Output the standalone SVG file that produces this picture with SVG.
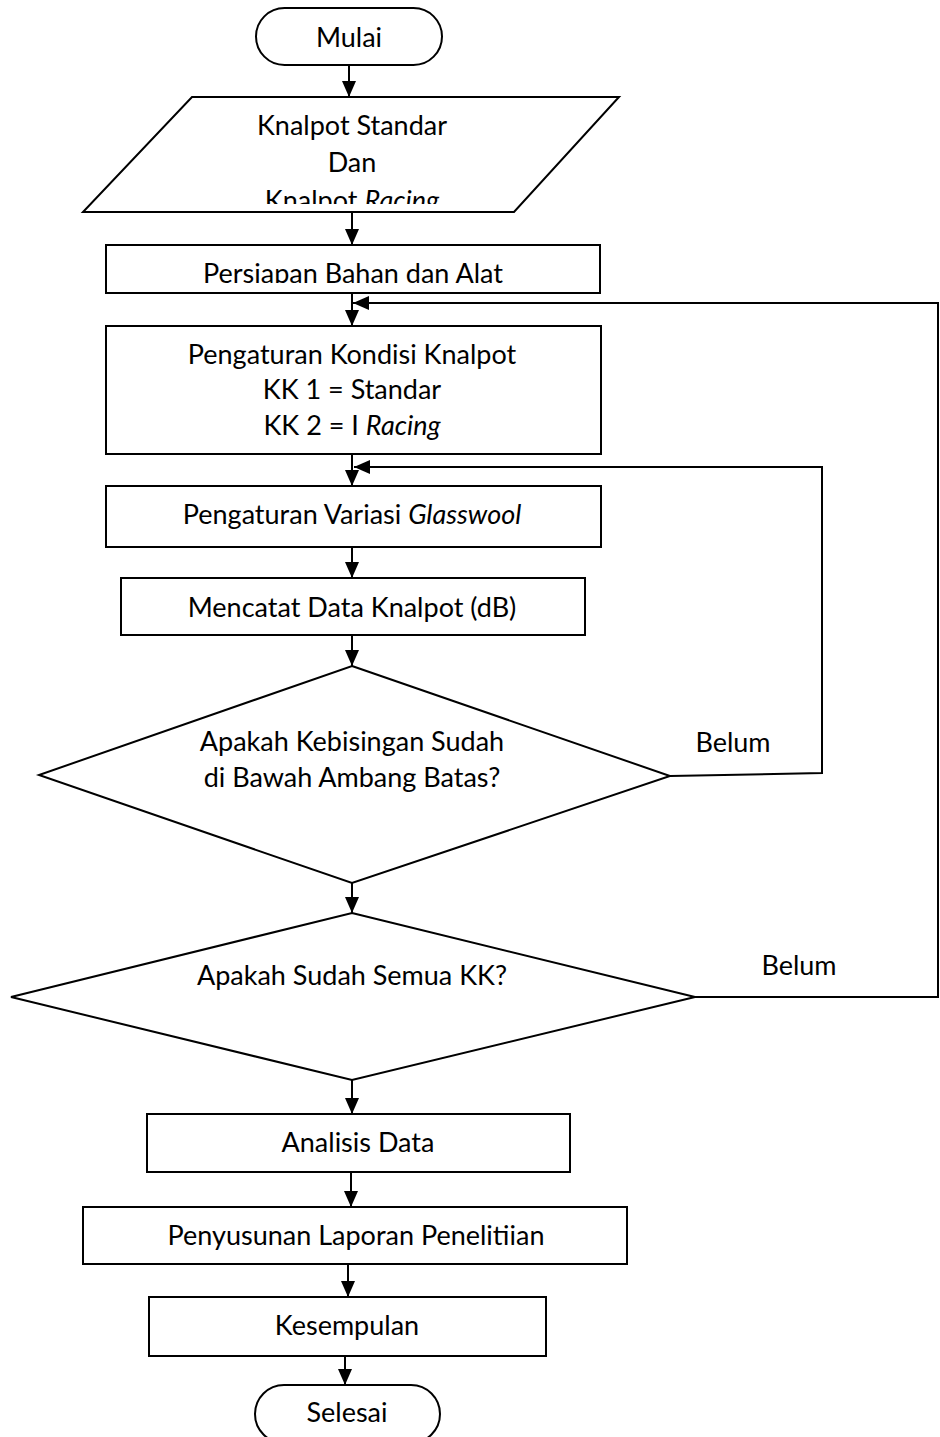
<svg xmlns="http://www.w3.org/2000/svg" width="940" height="1437" viewBox="0 0 940 1437">
<style>
.s{fill:#fff;stroke:#000;stroke-width:2}
.t{font-family:Lato,"Liberation Sans",sans-serif;font-size:27px;fill:#000;text-anchor:middle}
.i{font-style:italic}
.c{fill:none;stroke:#000;stroke-width:2}
</style>
<defs>
<marker id="ah" markerUnits="userSpaceOnUse" markerWidth="16" markerHeight="14" refX="16" refY="7" orient="auto">
<path d="M0,0 L16,7 L0,14 z" fill="#000"/>
</marker>
<clipPath id="cp1"><rect x="0" y="90" width="940" height="114"/></clipPath>
<clipPath id="cp2"><rect x="0" y="240" width="940" height="43"/></clipPath>
</defs>
<rect width="940" height="1437" fill="#fff"/>
<g id="connectors">
<line class="c" x1="349" y1="64" x2="349" y2="97" marker-end="url(#ah)"/>
<line class="c" x1="352" y1="212" x2="352" y2="245" marker-end="url(#ah)"/>
<line class="c" x1="352" y1="293" x2="352" y2="326" marker-end="url(#ah)"/>
<polyline class="c" points="695,997 938,997 938,303 353,303" marker-end="url(#ah)"/>
<line class="c" x1="352" y1="454" x2="352" y2="486" marker-end="url(#ah)"/>
<polyline class="c" points="670,776 822,773 822,467 354,467" marker-end="url(#ah)"/>
<line class="c" x1="352" y1="547" x2="352" y2="578" marker-end="url(#ah)"/>
<line class="c" x1="352" y1="635" x2="352" y2="666" marker-end="url(#ah)"/>
<line class="c" x1="352" y1="883" x2="352" y2="913" marker-end="url(#ah)"/>
<line class="c" x1="352" y1="1080" x2="352" y2="1114" marker-end="url(#ah)"/>
<line class="c" x1="351" y1="1172" x2="351" y2="1207" marker-end="url(#ah)"/>
<line class="c" x1="348" y1="1264" x2="348" y2="1297" marker-end="url(#ah)"/>
<line class="c" x1="345" y1="1356" x2="345" y2="1385" marker-end="url(#ah)"/>
<text class="t" x="733" y="752">Belum</text>
<text class="t" x="799" y="975">Belum</text>
</g>
<g id="mulai">
<rect class="s" x="256" y="8" width="186" height="57" rx="28.5"/>
<text class="t" x="349" y="47">Mulai</text>
</g>
<g id="input">
<polygon class="s" points="192,97 619,97 514,212 83,212"/>
<g clip-path="url(#cp1)">
<text class="t" x="352" y="135">Knalpot Standar</text>
<text class="t" x="352" y="172">Dan</text>
<text class="t" x="352" y="210">Knalpot <tspan class="i">Racing</tspan></text>
</g>
</g>
<g id="persiapan">
<rect class="s" x="106" y="245" width="494" height="48"/>
<text class="t" x="353" y="283" clip-path="url(#cp2)">Persiapan Bahan dan Alat</text>
</g>
<g id="kondisi">
<rect class="s" x="106" y="326" width="495" height="128"/>
<text class="t" x="352" y="364">Pengaturan Kondisi Knalpot</text>
<text class="t" x="352" y="399">KK 1 = Standar</text>
<text class="t" x="352" y="435">KK 2 = I <tspan class="i">Racing</tspan></text>
</g>
<g id="variasi">
<rect class="s" x="106" y="486" width="495" height="61"/>
<text class="t" x="352" y="524">Pengaturan Variasi <tspan class="i">Glasswool</tspan></text>
</g>
<g id="mencatat">
<rect class="s" x="121" y="578" width="464" height="57"/>
<text class="t" x="352" y="617">Mencatat Data Knalpot (dB)</text>
</g>
<g id="decision1">
<polygon class="s" points="352,666 670,776 352,883 39,775"/>
<text class="t" x="352" y="751">Apakah Kebisingan Sudah</text>
<text class="t" x="352" y="787">di Bawah Ambang Batas?</text>
</g>
<g id="decision2">
<polygon class="s" points="352,913 695,997 352,1080 11,997"/>
<text class="t" x="352" y="985">Apakah Sudah Semua KK?</text>
</g>
<g id="analisis">
<rect class="s" x="147" y="1114" width="423" height="58"/>
<text class="t" x="358" y="1152">Analisis Data</text>
</g>
<g id="penyusunan">
<rect class="s" x="83" y="1207" width="544" height="57"/>
<text class="t" x="356" y="1245">Penyusunan Laporan Penelitiian</text>
</g>
<g id="kesempulan">
<rect class="s" x="149" y="1297" width="397" height="59"/>
<text class="t" x="347" y="1335">Kesempulan</text>
</g>
<g id="selesai">
<rect class="s" x="255" y="1385" width="185" height="58" rx="29"/>
<text class="t" x="347" y="1422">Selesai</text>
</g>
</svg>
